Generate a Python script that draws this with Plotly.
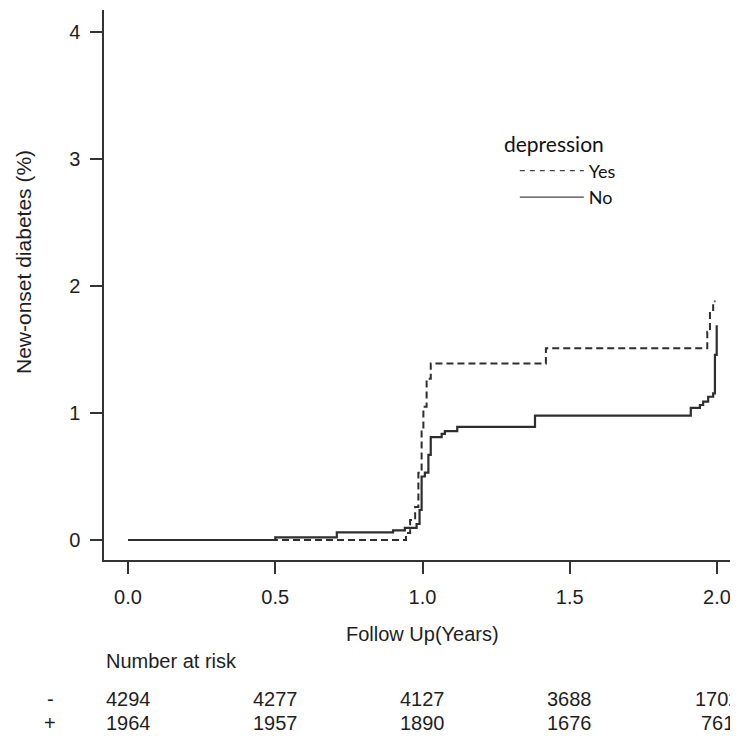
import plotly.graph_objects as go

# ---- data ----
years_no = [0.0, 0.50, 0.709, 0.90, 0.94, 0.98, 0.99, 0.997, 1.008, 1.02, 1.028,
            1.065, 1.076, 1.118, 1.382, 1.911, 1.942, 1.953, 1.970, 1.987, 1.993, 1.999]
pct_no = [0.0, 0.021, 0.06, 0.075, 0.095, 0.126, 0.236, 0.50, 0.53, 0.67, 0.81,
          0.835, 0.858, 0.89, 0.98, 1.04, 1.063, 1.089, 1.128, 1.155, 1.457, 1.69]

years_yes = [0.0, 0.944, 0.958, 0.975, 0.986, 0.997, 1.003, 1.014, 1.028, 1.419,
             1.967, 1.976, 1.987, 1.995]
pct_yes = [0.0, 0.055, 0.157, 0.26, 0.53, 0.87, 1.05, 1.27, 1.39, 1.51,
           1.64, 1.81, 1.88, 1.88]

x_ticks = [0.0, 0.5, 1.0, 1.5, 2.0]
x_tick_labels = ["0.0", "0.5", "1.0", "1.5", "2.0"]
y_ticks = [0, 1, 2, 3, 4]
y_tick_labels = ["0", "1", "2", "3", "4"]

risk_times = [0.0, 0.5, 1.0, 1.5, 2.0]
risk_group_labels = ["-", "+"]
at_risk_minus = [4294, 4277, 4127, 3688, 1702]
at_risk_plus = [1964, 1957, 1890, 1676, 761]

legend_title = "depression"
legend_names = ["Yes", "No"]

# ---- figure ----
CURVE = "#2e2e2e"
TXT = "#1e1e1e"
AXF = "Liberation Sans, Arial, sans-serif"
LEGF = "Lato, Noto Sans, sans-serif"

fig = go.Figure()

fig.add_trace(go.Scatter(x=years_yes, y=pct_yes, mode="lines", line_shape="hv",
                         line=dict(color=CURVE, width=2, dash="7px,4px"),
                         showlegend=False, hoverinfo="skip"))
fig.add_trace(go.Scatter(x=years_no, y=pct_no, mode="lines", line_shape="hv",
                         line=dict(color=CURVE, width=2.2),
                         showlegend=False, hoverinfo="skip"))

# legend-only entries (thin grey keys as in the reference)
fig.add_trace(go.Scatter(x=[None], y=[None], mode="lines", name=legend_names[0],
                         line=dict(color="#444444", width=1.3, dash="5px,5px")))
fig.add_trace(go.Scatter(x=[None], y=[None], mode="lines", name=legend_names[1],
                         line=dict(color="#444444", width=1.3)))

# legend heading (placed separately so it can sit left of the keys)
fig.add_annotation(x=0.628, y=0.7565, xref="paper", yref="paper", text=legend_title,
                   showarrow=False, xanchor="left", yanchor="middle",
                   font=dict(family=LEGF, size=21, color="#111111"))

# number at risk table
row_y = [-0.2527, -0.2964]
for lab, vals, yy in zip(risk_group_labels, [at_risk_minus, at_risk_plus], row_y):
    fig.add_annotation(x=-0.085, y=yy, xref="paper", yref="paper", text=lab,
                       showarrow=False, xanchor="center", yanchor="middle",
                       font=dict(family=AXF, size=20, color=TXT))
    for t, v in zip(risk_times, vals):
        fig.add_annotation(x=t, y=yy, xref="x", yref="paper", text=str(v),
                           showarrow=False, xanchor="center", yanchor="middle",
                           font=dict(family=AXF, size=20, color=TXT))

fig.add_annotation(x=0, y=-0.1836, xref="paper", yref="paper", text="Number at risk",
                   showarrow=False, xanchor="left", yanchor="middle",
                   font=dict(family=AXF, size=20, color=TXT))
fig.add_annotation(x=1.0, y=-0.1345, xref="x", yref="paper", text="Follow Up(Years)",
                   showarrow=False, xanchor="center", yanchor="middle",
                   font=dict(family=AXF, size=20, color=TXT))
fig.add_annotation(x=-0.126, y=0.542, xref="paper", yref="paper",
                   text="New-onset diabetes (%)", textangle=-90,
                   showarrow=False, xanchor="center", yanchor="middle",
                   font=dict(family=AXF, size=21, color=TXT))

# page body has an 8px margin, so the figure is sized to end at the window edge
fig.update_layout(
    width=730, height=728,
    margin=dict(l=96, r=0, t=2, b=176),
    paper_bgcolor="white", plot_bgcolor="white",
    xaxis=dict(range=[-0.0815, 2.0713], tickvals=x_ticks, ticktext=x_tick_labels,
               showgrid=False, zeroline=False, showline=True, linecolor="#333333",
               linewidth=1.5, ticks="outside", ticklen=12, tickwidth=1.5,
               tickcolor="#333333", ticklabelstandoff=6,
               tickfont=dict(family=AXF, size=20, color=TXT)),
    yaxis=dict(range=[-0.1575, 4.173], tickvals=y_ticks, ticktext=y_tick_labels,
               showgrid=False, zeroline=False, showline=True, linecolor="#333333",
               linewidth=1.5, ticks="outside", ticklen=12, tickwidth=1.5,
               tickcolor="#333333", ticklabelstandoff=6,
               tickfont=dict(family=AXF, size=20, color=TXT)),
    legend=dict(x=0.648, y=0.741, xanchor="left", yanchor="top",
                bgcolor="rgba(0,0,0,0)", borderwidth=0,
                font=dict(family=LEGF, size=18, color="#111111"),
                itemwidth=64, tracegroupgap=0),
    showlegend=True,
)

fig.write_html("out.html")
